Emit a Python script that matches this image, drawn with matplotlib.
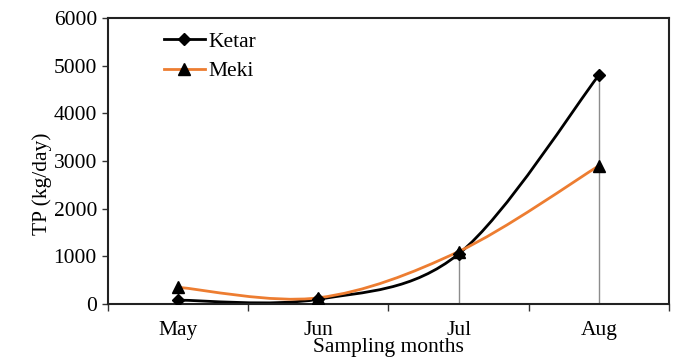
import numpy as np
import matplotlib
matplotlib.use("Agg")
import matplotlib.pyplot as plt
from matplotlib.path import Path
from matplotlib.patches import PathPatch
from matplotlib.lines import Line2D

months = ["May", "Jun", "Jul", "Aug"]
ketar = [80, 100, 1050, 4800]
meki = [350, 130, 1100, 2900]

plt.rcParams['font.family'] = ['Liberation Serif', 'DejaVu Serif']
plt.rcParams['font.size'] = 15.5


def smooth_path(x, y):
    # Excel-style smoothed line: cubic Bezier segments through the points
    pts = np.column_stack([x, y]).astype(float)
    n = len(pts)
    verts = [pts[0]]
    codes = [Path.MOVETO]
    for i in range(n - 1):
        p0 = pts[i - 1] if i > 0 else pts[i]
        p1 = pts[i]
        p2 = pts[i + 1]
        p3 = pts[i + 2] if i + 2 < n else pts[i + 1]
        c1 = p1 + (p2 - p0) / 6.0
        c2 = p2 - (p3 - p1) / 6.0
        verts += [c1, c2, p2]
        codes += [Path.CURVE4] * 3
    return Path(verts, codes)


fig = plt.figure(figsize=(7, 3.64), dpi=100)
ax = fig.add_axes([108 / 700, 60 / 364, 561 / 700, 286 / 364])

x = np.arange(len(months))

# drop lines
tops = np.maximum(ketar, meki)
ax.vlines(x, 0, tops, color="#8c8c8c", lw=1, zorder=1)

ax.add_patch(PathPatch(smooth_path(x, ketar), fill=False, edgecolor="black", lw=2, zorder=2))
ax.add_patch(PathPatch(smooth_path(x, meki), fill=False, edgecolor="#ED7D31", lw=2, zorder=2))
ax.plot(x, ketar, ls="none", marker="D", ms=6, color="black", zorder=3)
ax.plot(x, meki, ls="none", marker="^", ms=8, color="black", zorder=3)

ax.set_xlim(-0.5, 3.5)
ax.set_ylim(0, 6000)
ax.set_yticks(range(0, 6001, 1000))
ax.set_xticks(x)
ax.set_xticklabels(months)
ax.set_xticks(np.arange(-0.5, 3.6, 1), minor=True)
ax.tick_params(axis="x", which="major", length=0, pad=12)
ax.tick_params(axis="x", which="minor", length=5, width=1, direction="out", color="#333333")
ax.tick_params(axis="y", length=4, width=1, direction="out", color="#333333", pad=4)

for s in ax.spines.values():
    s.set_linewidth(1.5)
    s.set_color("#222222")

ax.set_xlabel("Sampling months", labelpad=-1)
ax.set_ylabel("TP (kg/day)")
ax.yaxis.set_label_coords(-0.1, 0.42)

handles = [
    Line2D([], [], color="black", lw=2, marker="D", ms=6, markerfacecolor="black"),
    Line2D([], [], color="#ED7D31", lw=2, marker="^", ms=8, markerfacecolor="black",
           markeredgecolor="black"),
]
ax.legend(handles, ["Ketar", "Meki"], loc="upper left", bbox_to_anchor=(0.065, 1.02),
          frameon=False, handlelength=1.9, handletextpad=0.15, labelspacing=0.45)

fig.savefig("out.png", dpi=100)
